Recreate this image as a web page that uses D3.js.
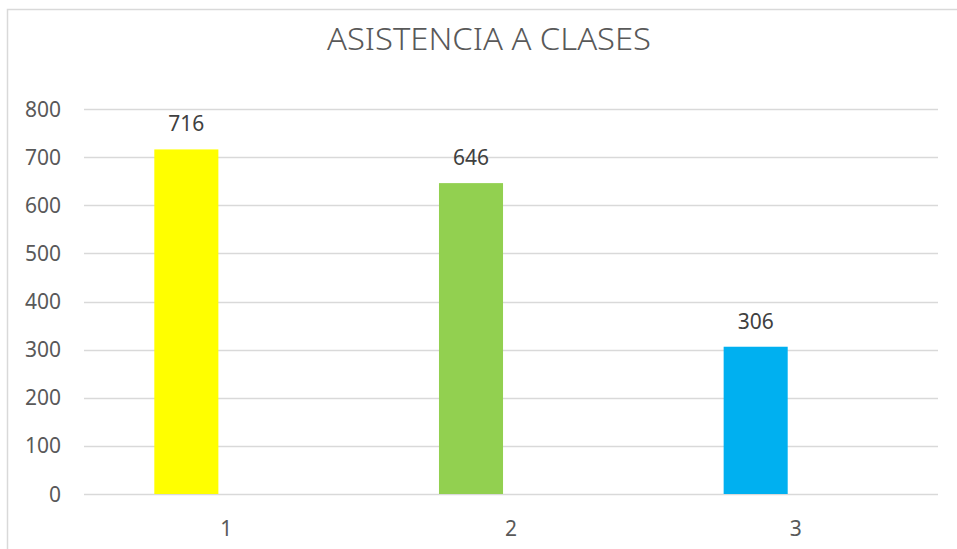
<!DOCTYPE html>
<html>
<head>
<meta charset="utf-8">
<script src="https://cdn.jsdelivr.net/npm/d3@7"></script>
<style>
    body { margin: 0; background: #fff; }
    svg text { font-family: "Noto Sans", "Open Sans", sans-serif; }
</style>
</head>
<body>
<div id="chart"></div>
<script>
    // chart data
    let categories = ["1", "2", "3"];
    let values = [716, 646, 306];
    let barColors = ["#FFFF00", "#92D050", "#00B0F0"];
    let yTicks = [0, 100, 200, 300, 400, 500, 600, 700, 800];
    let title = "ASISTENCIA A CLASES";

(() => {
    let w = 957;
    let h = 549;
    let plotLeft = 84, plotRight = 938, plotTop = 109, plotBottom = 494;

    let svg = d3.select("#chart")
        .append("svg")
        .attr("width", w)
        .attr("height", h);

    // chart border (only top + left visible in the crop)
    svg.append("path")
        .attr("d", "M7.5," + h + " V9.5 H" + w)
        .attr("fill", "none")
        .attr("stroke", "#d9d9d9")
        .attr("stroke-width", 1.5);

    let x = d3.scaleBand()
        .domain(categories)
        .range([plotLeft, plotRight])
        .padding(0);

    let y = d3.scaleLinear()
        .domain([0, 800])
        .range([plotBottom, plotTop]);

    // gridlines
    svg.selectAll(".grid")
        .data(yTicks)
        .enter()
        .append("line")
        .attr("x1", plotLeft)
        .attr("x2", plotRight)
        .attr("y1", (d) => Math.round(y(d)) + 0.5)
        .attr("y2", (d) => Math.round(y(d)) + 0.5)
        .attr("stroke", "#d9d9d9")
        .attr("stroke-width", 1.5);

    // y labels
    svg.selectAll(".ylab")
        .data(yTicks)
        .enter()
        .append("text")
        .text((d) => d)
        .attr("x", 61)
        .attr("y", (d) => y(d) + 7.5)
        .attr("text-anchor", "end")
        .attr("font-size", 21)
        .attr("fill", "#595959");

    // bars sit left of category centre (second slot of the cluster is empty)
    let bw = x.bandwidth() * 0.225;
    let gap = x.bandwidth() * 0.056;
    let barX = (c) => x(c) + x.bandwidth() / 2 - gap / 2 - bw;

    svg.selectAll(".bar")
        .data(values)
        .enter()
        .append("rect")
        .attr("x", (d, i) => barX(categories[i]))
        .attr("y", (d) => y(d))
        .attr("width", bw)
        .attr("height", (d) => y(0) - y(d))
        .attr("fill", (d, i) => barColors[i]);

    // value labels
    svg.selectAll(".val")
        .data(values)
        .enter()
        .append("text")
        .text((d) => d)
        .attr("x", (d, i) => barX(categories[i]) + bw / 2)
        .attr("y", (d) => y(d) - 18)
        .attr("text-anchor", "middle")
        .attr("font-size", 21)
        .attr("fill", "#404040");

    // category labels
    svg.selectAll(".cat")
        .data(categories)
        .enter()
        .append("text")
        .text((d) => d)
        .attr("x", (d) => x(d) + x.bandwidth() / 2)
        .attr("y", 536)
        .attr("text-anchor", "middle")
        .attr("font-size", 21)
        .attr("fill", "#595959");

    svg.append("text")
        .text(title)
        .attr("x", 489)
        .attr("y", 50)
        .attr("text-anchor", "middle")
        .attr("font-size", 32)
        .attr("font-weight", 300)
        .attr("textLength", 324)
        .attr("lengthAdjust", "spacingAndGlyphs")
        .attr("fill", "#595959");
})();
</script>
</body>
</html>
